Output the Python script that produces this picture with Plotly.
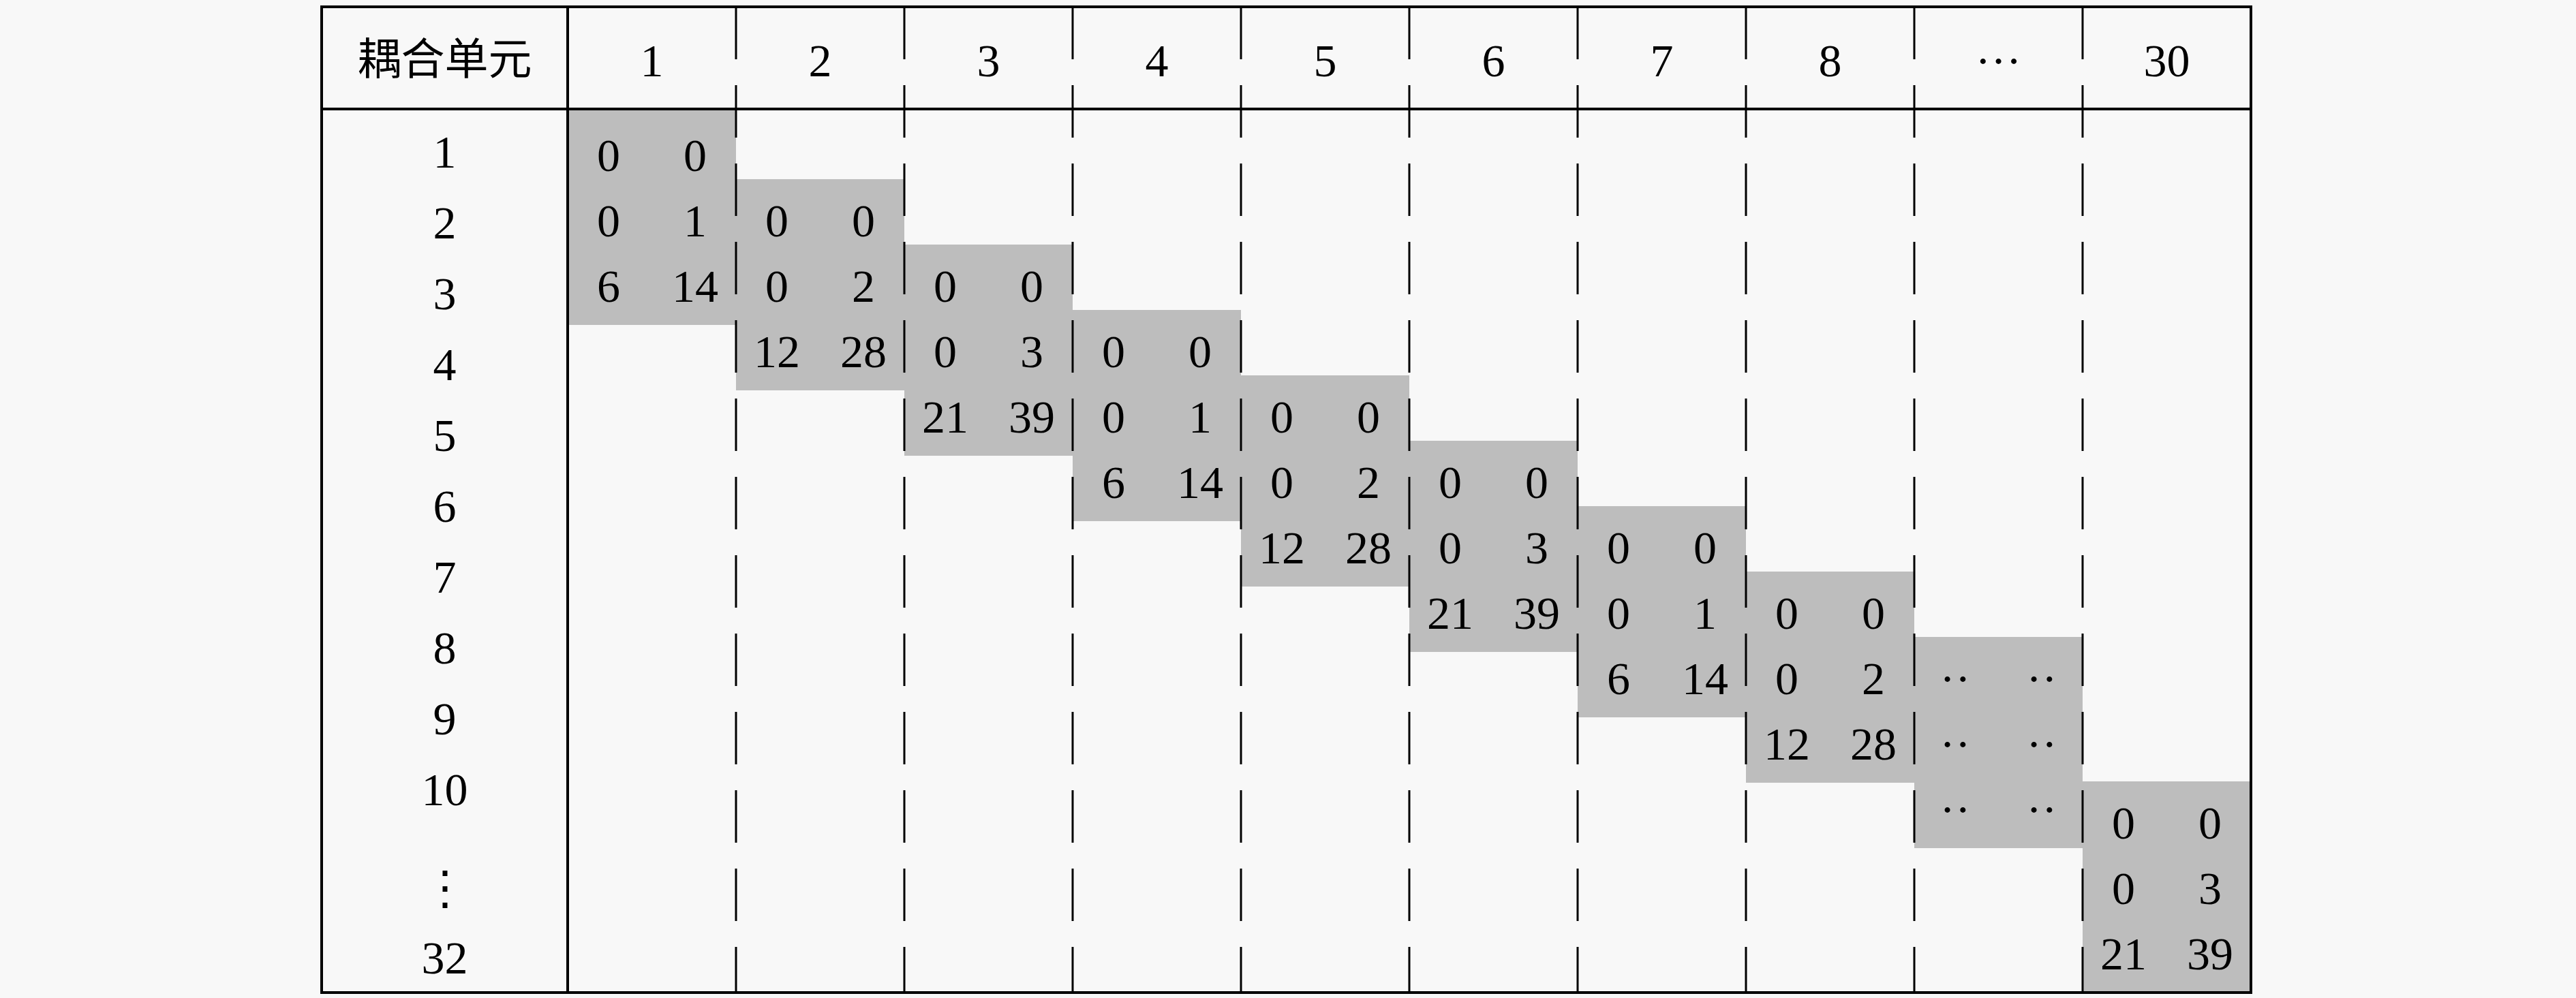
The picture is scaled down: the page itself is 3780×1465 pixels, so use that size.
import plotly.graph_objects as go

# ---------------- data ----------------
corner_label = "耦合单元"
col_labels = ["1", "2", "3", "4", "5", "6", "7", "8", "···", "30"]
row_labels = ["1", "2", "3", "4", "5", "6", "7", "8", "9", "10", "⋮", "32"]
left_vals = [
    ["0", "0", "6"], ["0", "0", "12"], ["0", "0", "21"],
    ["0", "0", "6"], ["0", "0", "12"], ["0", "0", "21"],
    ["0", "0", "6"], ["0", "0", "12"], ["··", "··", "··"],
    ["0", "0", "21"],
]
right_vals = [
    ["0", "1", "14"], ["0", "2", "28"], ["0", "3", "39"],
    ["0", "1", "14"], ["0", "2", "28"], ["0", "3", "39"],
    ["0", "1", "14"], ["0", "2", "28"], ["··", "··", "··"],
    ["0", "3", "39"],
]

# ---------------- layout geometry (pixels) ----------------
W, H = 3780, 1465
TL, TR, TT, TB = 472, 3303, 10, 1457
HB = 160                      # header bottom line
C0 = 833                      # first separator
NC = len(col_labels)
CW = (TR - C0) / NC
ROW_Y0, ROW_P = 226, 96       # block text rows
BLK_HALF = 155
LBL_Y0, LBL_P = 221, 104.0    # row label pitch
SUB_L, SUB_R = 60, 187
TDY = 8                       # glyph centring correction

SERIF = "Liberation Serif"
CJK = "Noto Sans CJK SC"
FS = 68
BG = "#f8f8f8"
GRAY = "#bdbdbd"

fig = go.Figure()
shapes = []

# gray blocks + block texts
bx, by, bt = [], [], []
block_centers = []
for k in range(NC):
    if k < NC - 1:
        yc = ROW_Y0 + ROW_P * (k + 1)
    else:
        yc = TB - BLK_HALF
    block_centers.append(yc)
    x0 = C0 + k * CW
    y0 = HB if k == 0 else max(yc - BLK_HALF, HB)
    shapes.append(dict(type="rect", xref="x", yref="y", layer="below",
                       x0=x0, x1=x0 + CW,
                       y0=y0, y1=min(yc + BLK_HALF, TB),
                       fillcolor=GRAY, line=dict(width=0)))
    for j in range(3):
        yy = yc + (j - 1) * ROW_P + TDY
        bx += [x0 + SUB_L, x0 + SUB_R]
        by += [yy, yy]
        bt += [left_vals[k][j], right_vals[k][j]]

fig.add_trace(go.Scatter(x=bx, y=by, text=bt, mode="text",
                         textposition="middle center",
                         textfont=dict(family=SERIF, size=FS, color="black"),
                         hoverinfo="skip", cliponaxis=False))

# header
hx = [C0 + (k + 0.5) * CW for k in range(NC)]
hy = [(TT + HB) / 2 + TDY + 2] * NC
fig.add_trace(go.Scatter(x=hx, y=hy, text=col_labels, mode="text",
                         textposition="middle center",
                         textfont=dict(family=SERIF, size=FS, color="black"),
                         hoverinfo="skip", cliponaxis=False))
fig.add_trace(go.Scatter(x=[(TL + C0) / 2], y=[(TT + HB) / 2 + TDY], text=[corner_label],
                         mode="text", textposition="middle center",
                         textfont=dict(family=CJK, size=64, color="black"),
                         hoverinfo="skip", cliponaxis=False))

# row labels
ry = []
n_regular = len(row_labels) - 2
for i in range(len(row_labels)):
    if i < n_regular:
        ry.append(LBL_Y0 + i * LBL_P + TDY)
    else:
        ry.append(block_centers[-1] + (i - n_regular) * ROW_P + TDY + 6 * (i - n_regular))
rx = [(TL + C0) / 2] * len(row_labels)
fig.add_trace(go.Scatter(x=rx, y=ry, text=row_labels, mode="text",
                         textposition="middle center",
                         textfont=dict(family=SERIF, size=FS, color="black"),
                         hoverinfo="skip", cliponaxis=False))

# table lines
LW = 4
shapes.append(dict(type="rect", xref="x", yref="y", x0=TL, x1=TR, y0=TT, y1=TB,
                   line=dict(color="black", width=LW)))
shapes.append(dict(type="line", xref="x", yref="y", x0=TL, x1=TR, y0=HB, y1=HB,
                   line=dict(color="black", width=LW)))
shapes.append(dict(type="line", xref="x", yref="y", x0=C0, x1=C0, y0=TT, y1=TB,
                   line=dict(color="black", width=LW)))
for k in range(1, NC):
    xk = C0 + k * CW
    shapes.append(dict(type="line", xref="x", yref="y", x0=xk, x1=xk, y0=TT, y1=TB,
                       line=dict(color="black", width=3, dash="77px,38px")))

fig.update_layout(
    width=W, height=H, margin=dict(l=0, r=0, t=0, b=0),
    paper_bgcolor=BG, plot_bgcolor=BG, showlegend=False,
    xaxis=dict(range=[0, W], visible=False, fixedrange=True),
    yaxis=dict(range=[H, 0], visible=False, fixedrange=True),
    shapes=shapes,
)

fig.write_html("out.html", config={"displayModeBar": False},
               post_script="document.body.style.margin='0';")
